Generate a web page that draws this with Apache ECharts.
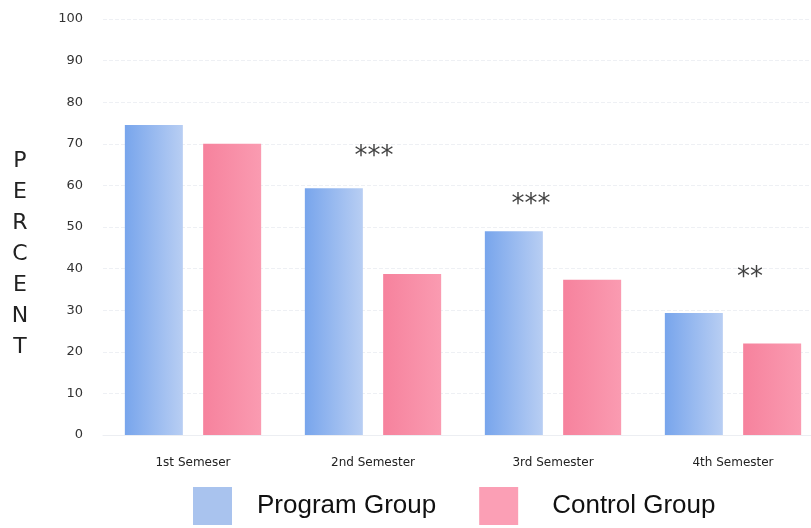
<!DOCTYPE html>
<html>
<head>
<meta charset="utf-8">
<script src="https://cdn.jsdelivr.net/npm/echarts@6/dist/echarts.min.js"></script>
<style>
  html, body { margin: 0; padding: 0; background: #fff; overflow: hidden; }
  /* the plot runs past the right edge of the scan, so the canvas is a bit wider than the window */
  #chart { width: 823px; height: 528px; }
</style>
</head>
<body>
<div id="chart"></div>
<script>
// semesters and percent values
const semesters = ['1st Semeser', '2nd Semester', '3rd Semester', '4th Semester'];
const programGroup = [74.5, 59.3, 49, 29.3];
const controlGroup = [70, 38.7, 37.3, 22];
// significance marks and the height (percent) they sit at
const sigMarks = ['', '***', '***', '**'];
const sigLevel = [0, 66.8, 55.3, 37.8];
const yTicks = [0, 100, 10];
const yTitle = 'PERCENT';

const chart = echarts.init(document.getElementById('chart'));

const blueFill = new echarts.graphic.LinearGradient(0, 0, 1, 0, [
  { offset: 0, color: '#78a5ec' },
  { offset: 1, color: '#b8cef3' },
]);
const pinkFill = new echarts.graphic.LinearGradient(0, 0, 1, 0, [
  { offset: 0, color: '#f6829d' },
  { offset: 1, color: '#fa9bb1' },
]);

// horizontal nudges so the stars land where they are drawn in the scan
const sigShift = [0, 1, -22, 17];

const option = {
  animation: false,
  textStyle: { fontFamily: 'DejaVu Sans' },
  grid: { left: 103, top: 19, right: 0, bottom: 93, containLabel: false },
  // stacked letters of the axis title, lower than the axis middle as in the scan
  graphic: [
    {
      type: 'text',
      x: 20,
      y: 146,
      style: {
        text: yTitle.split('').join('\n'),
        textAlign: 'center',
        textVerticalAlign: 'top',
        fontSize: 22,
        lineHeight: 31,
        fontFamily: 'DejaVu Sans',
        fill: '#222',
      },
    },
  ],
  legend: {
    left: 188,
    top: 482,
    itemWidth: 39,
    itemHeight: 38,
    itemGap: 43,
    icon: 'rect',
    data: [
      { name: 'Program Group', itemStyle: { color: '#a9c3ee' } },
      {
        name: 'Control Group',
        itemStyle: { color: '#fb9fb5' },
        textStyle: { padding: [0, 0, 0, 29] },
      },
    ],
    textStyle: {
      fontFamily: 'Liberation Sans',
      fontSize: 26,
      color: '#111',
      padding: [0, 0, 0, 20],
    },
  },
  xAxis: {
    type: 'category',
    data: semesters,
    axisLine: { show: true, lineStyle: { color: '#eceef2' } },
    axisTick: { show: false },
    axisLabel: { margin: 22, fontSize: 12, color: '#222' },
  },
  yAxis: {
    type: 'value',
    min: yTicks[0],
    max: yTicks[1],
    interval: yTicks[2],
    axisLabel: { margin: 20, fontSize: 13, color: '#333' },
    splitLine: { lineStyle: { color: '#eef0f4', type: 'dashed' } },
  },
  series: [
    {
      name: 'Program Group',
      type: 'bar',
      data: programGroup,
      barWidth: 58,
      barGap: '35%',
      itemStyle: { color: blueFill },
    },
    {
      name: 'Control Group',
      type: 'bar',
      data: controlGroup,
      barWidth: 58,
      itemStyle: { color: pinkFill },
    },
    {
      name: 'sig',
      type: 'scatter',
      symbolSize: 0,
      silent: true,
      data: sigLevel.map((v, i) => ({
        value: [i, v],
        label: {
          show: true,
          formatter: sigMarks[i],
          position: 'inside',
          offset: [sigShift[i], 0],
          fontSize: 26,
          color: '#111',
          fontFamily: 'DejaVu Sans',
        },
      })),
      z: 5,
    },
  ],
};

chart.setOption(option);
</script>
</body>
</html>
